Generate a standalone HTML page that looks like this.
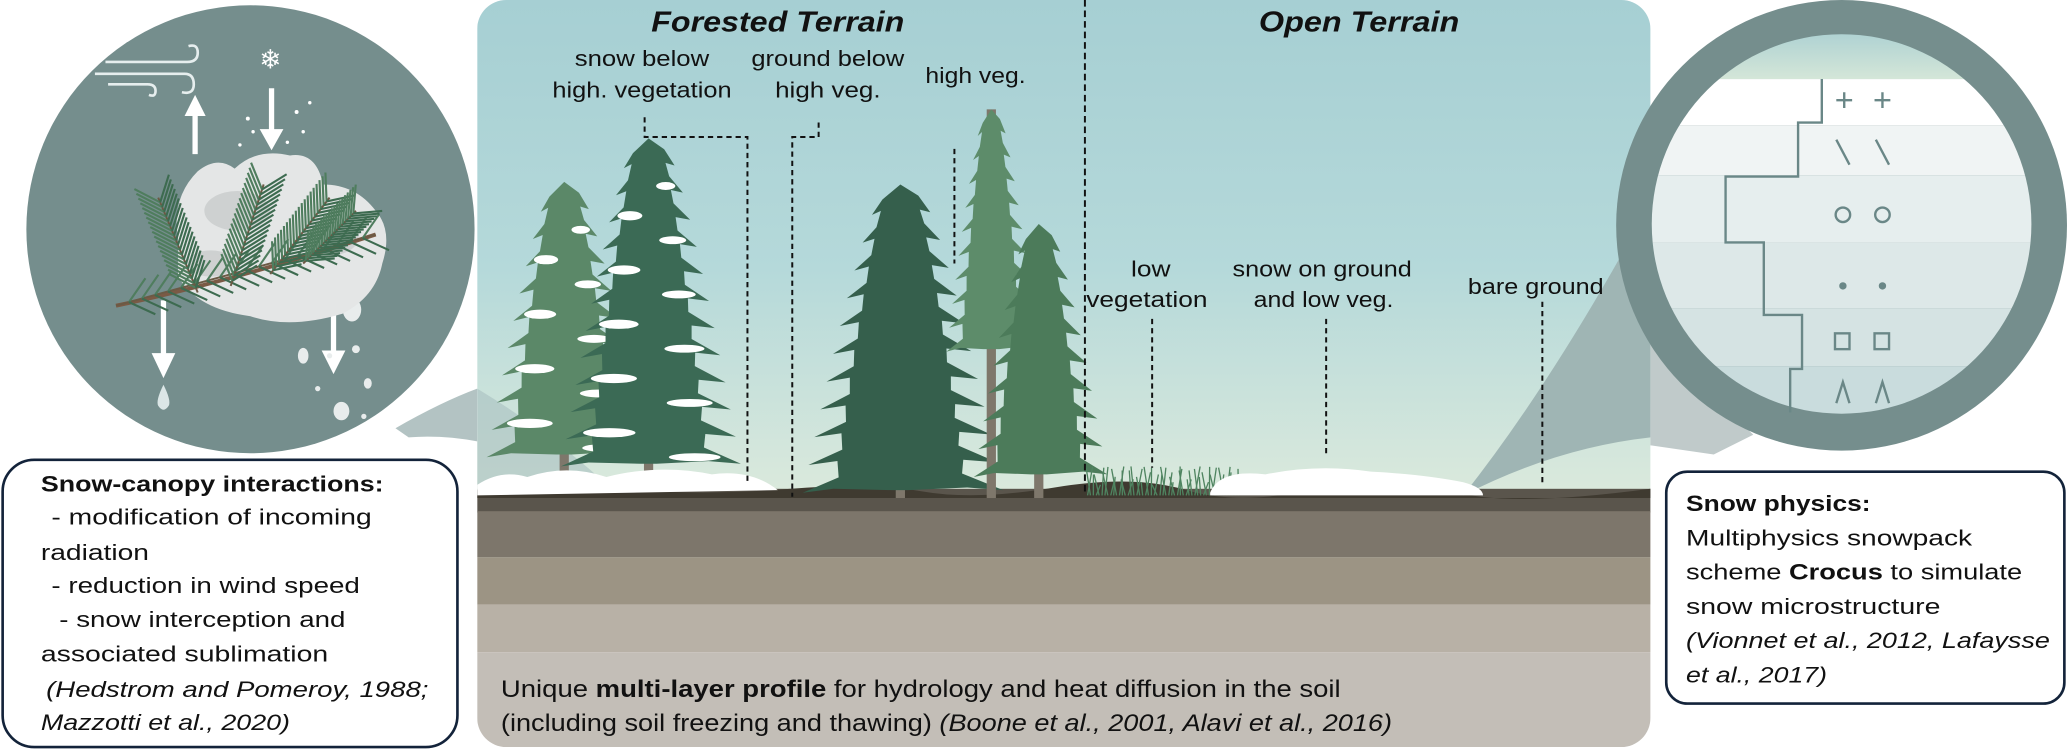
<!DOCTYPE html>
<html><head><meta charset="utf-8"><style>
html,body{margin:0;padding:0;background:#fff;}
svg{display:block;}
text{font-family:"Liberation Sans",sans-serif;}
</style></head><body>
<svg id="s" width="2067" height="751" viewBox="0 0 1568 570" preserveAspectRatio="none" xmlns="http://www.w3.org/2000/svg">
<defs>
<linearGradient id="sky" x1="0" y1="0" x2="0" y2="1">
<stop offset="0" stop-color="#a6cfd3"/><stop offset="0.55" stop-color="#b5d9da"/><stop offset="1" stop-color="#dae9dc"/>
</linearGradient>
<linearGradient id="top" x1="0" y1="0" x2="0" y2="1">
<stop offset="0" stop-color="#a9cfd2"/><stop offset="1" stop-color="#d4e6d8"/>
</linearGradient>
<clipPath id="panel"><rect x="362" y="0" width="890" height="567" rx="22"/></clipPath>
<clipPath id="inner"><circle cx="1397" cy="170" r="144"/></clipPath>
</defs>

<g clip-path="url(#panel)">
<rect x="362" y="0" width="890" height="372" fill="url(#sky)"/>
<rect x="362" y="371" width="890" height="18" fill="#5a554c"/>
<rect x="362" y="388" width="890" height="35" fill="#7d766b"/>
<rect x="362" y="423" width="890" height="36" fill="#9c9484"/>
<rect x="362" y="459" width="890" height="36" fill="#b8b1a6"/>
<rect x="362" y="495" width="890" height="72" fill="#c3beb7"/>
<path d="M362 372 Q420 368 480 372 T600 371 T700 373 T800 370 T900 372 T1000 371 T1100 372 T1252 371 L1252 378 L362 378Z" fill="#3f3a30"/>
<path d="M362 295 Q420 330 465 372 L362 372Z" fill="#a9bfbf" opacity="0.6"/>
<path d="M1110 376 Q1170 300 1232 190 L1252 250 L1252 332 Q1180 340 1110 376Z" fill="#9fb5b4"/>
<g id="trees"></g>
<path d="M362 368 Q380 356 400 362 Q430 352 460 362 Q500 352 540 360 Q570 356 590 372 L362 376Z" fill="#fff"/>
<g id="grass" stroke="#4f8460" stroke-width="1"></g>
<path d="M918 374 Q925 356 960 360 Q1000 352 1040 358 Q1080 360 1110 366 Q1125 370 1125 376 L918 376Z" fill="#fff"/>
</g>
<line x1="823" y1="0" x2="823" y2="375" stroke="#111" stroke-width="1.5" stroke-dasharray="5,3"/>

<g font-size="17" fill="#111" text-anchor="middle">
<text x="590" y="24" font-weight="bold" font-style="italic" font-size="22" textLength="192" lengthAdjust="spacingAndGlyphs">Forested Terrain</text>
<text x="1031" y="24" font-weight="bold" font-style="italic" font-size="22" textLength="152" lengthAdjust="spacingAndGlyphs">Open Terrain</text>
<text x="487" y="50" textLength="102" lengthAdjust="spacingAndGlyphs">snow below</text>
<text x="487" y="74" textLength="136" lengthAdjust="spacingAndGlyphs">high. vegetation</text>
<text x="628" y="50" textLength="116" lengthAdjust="spacingAndGlyphs">ground below</text>
<text x="628" y="74" textLength="80" lengthAdjust="spacingAndGlyphs">high veg.</text>
<text x="740" y="63" textLength="76" lengthAdjust="spacingAndGlyphs">high veg.</text>
<text x="873" y="210" textLength="30" lengthAdjust="spacingAndGlyphs">low</text>
<text x="870" y="233" textLength="92" lengthAdjust="spacingAndGlyphs">vegetation</text>
<text x="1003" y="210" textLength="136" lengthAdjust="spacingAndGlyphs">snow on ground</text>
<text x="1004" y="233" textLength="106" lengthAdjust="spacingAndGlyphs">and low veg.</text>
<text x="1165" y="223" textLength="103" lengthAdjust="spacingAndGlyphs">bare ground</text>
</g>
<g fill="none" stroke="#111" stroke-width="1.5" stroke-dasharray="4,3">
<polyline points="489,89 489,104 567,104 567,365"/>
<polyline points="621,93 621,104 601,104 601,377"/>
<line x1="724" y1="113" x2="724" y2="200"/>
<line x1="874" y1="242" x2="874" y2="355"/>
<line x1="1006" y1="242" x2="1006" y2="345"/>
<line x1="1170" y1="229" x2="1170" y2="368"/>
</g>
<g font-size="18" fill="#111">
<text x="380" y="529" textLength="637" lengthAdjust="spacingAndGlyphs">Unique <tspan font-weight="bold">multi-layer profile</tspan> for hydrology and heat diffusion in the soil</text>
<text x="380" y="555" textLength="676" lengthAdjust="spacingAndGlyphs">(including soil freezing and thawing) <tspan font-style="italic">(Boone et al., 2001, Alavi et al., 2016)</tspan></text>
</g>

<path d="M300 325 Q335 305 362 295 L362 335 Q335 330 310 332Z" fill="#b3c3c3"/>
<circle cx="190" cy="174" r="170" fill="#758e8d"/>
<g fill="none" stroke="#e6eeee" stroke-width="2">
<path d="M80 47 H142 Q150 47 150 40 Q150 33 143 35"/>
<path d="M72 56 H140 Q147 56 147 64 Q147 72 138 70"/>
<path d="M82 64 H112 Q118 64 118 69 Q118 74 113 72"/>
</g>
<text x="205" y="52" text-anchor="middle" font-size="20" fill="#fff">❄</text>
<g fill="#fff">
<path d="M146 117 V88 H140 L148 72 L156 88 H150 V117Z"/>
<path d="M204 67 V98 H197 L206 114 L215 98 H208 V67Z"/>
<path d="M122 228 V268 H115 L124 287 L133 268 H126 V228Z"/>
<path d="M251 232 V266 H244 L253 284 L262 266 H255 V232Z"/>
</g>
<path d="M124 292 Q130 304 128 308 Q124 314 120 308 Q118 304 124 292Z" fill="#dbe6e6"/>
<g fill="#e8ecec"><ellipse cx="267" cy="235" rx="7" ry="9"/><ellipse cx="230" cy="270" rx="4" ry="6"/><ellipse cx="259" cy="312" rx="6" ry="7"/><ellipse cx="279" cy="291" rx="3" ry="4"/><circle cx="241" cy="295" r="2"/><circle cx="250" cy="270" r="2"/><circle cx="276" cy="316" r="2"/><circle cx="270" cy="265" r="3"/></g>
<g fill="#e4e6e6">
<path d="M135 180 Q130 150 150 130 Q165 118 178 128 Q195 112 220 118 Q240 115 245 140 Q270 140 285 160 Q298 175 290 200 Q285 225 260 238 Q220 250 190 240 Q150 235 135 210Z"/>
</g>
<g fill="#c9cccc" opacity="0.8"><ellipse cx="180" cy="160" rx="25" ry="15"/><ellipse cx="250" cy="180" rx="22" ry="14"/><ellipse cx="160" cy="200" rx="18" ry="10"/></g>
<g id="branch"></g>
<g fill="#fff"><circle cx="188" cy="90" r="1.5"/><circle cx="192" cy="100" r="1.3"/><circle cx="225" cy="85" r="1.5"/><circle cx="230" cy="100" r="1.3"/><circle cx="218" cy="108" r="1.3"/><circle cx="182" cy="110" r="1.3"/><circle cx="235" cy="78" r="1.3"/></g>

<rect x="2" y="349" width="345" height="218" rx="24" fill="#fff" stroke="#13233a" stroke-width="2"/>
<g font-size="17" fill="#111">
<text x="31" y="373" font-weight="bold" textLength="260" lengthAdjust="spacingAndGlyphs">Snow-canopy interactions:</text>
<text x="39" y="398" textLength="243" lengthAdjust="spacingAndGlyphs">- modification of incoming</text>
<text x="31" y="425" textLength="82" lengthAdjust="spacingAndGlyphs">radiation</text>
<text x="39" y="450" textLength="234" lengthAdjust="spacingAndGlyphs">- reduction in wind speed</text>
<text x="45" y="476" textLength="217" lengthAdjust="spacingAndGlyphs">- snow interception and</text>
<text x="31" y="502" textLength="218" lengthAdjust="spacingAndGlyphs">associated sublimation</text>
<text x="35" y="529" font-style="italic" textLength="290" lengthAdjust="spacingAndGlyphs">(Hedstrom and Pomeroy, 1988;</text>
<text x="31" y="554" font-style="italic" textLength="189" lengthAdjust="spacingAndGlyphs">Mazzotti et al., 2020)</text>
</g>

<path d="M1252 252 L1330 330 L1300 345 L1252 338Z" fill="#c0caca"/>
<circle cx="1397" cy="171" r="171" fill="#758e8d"/>
<g clip-path="url(#inner)">
<rect x="1250" y="20" width="300" height="40" fill="url(#top)"/>
<rect x="1250" y="60" width="300" height="35" fill="#ffffff"/>
<rect x="1250" y="95" width="300" height="38" fill="#f0f4f4"/>
<rect x="1250" y="133" width="300" height="51" fill="#e6eeee"/>
<rect x="1250" y="184" width="300" height="50" fill="#dde8e8"/>
<rect x="1250" y="234" width="300" height="44" fill="#d5e3e3"/>
<rect x="1250" y="278" width="300" height="40" fill="#c9dcdd"/>
</g>
<g fill="none" stroke="#6a8787" stroke-width="1.8">
<polyline points="1382,60 1382,93 1364,93 1364,134 1309,134 1309,184 1338,184 1338,239 1367,239 1367,280 1358,280 1358,313"/>
<path d="M1393 76 H1405 M1399 70 V82 M1422 76 H1434 M1428 70 V82"/>
<path d="M1393 106 L1403 125 M1423 106 L1433 125"/>
<circle cx="1398" cy="163" r="5.5"/><circle cx="1428" cy="163" r="5.5"/>
<rect x="1392" y="253" width="11" height="12"/><rect x="1422" y="253" width="11" height="12"/>
<path d="M1393 306 L1398 290 L1403 306 M1423 306 L1428 290 L1433 306"/>
</g>
<circle cx="1398" cy="217" r="2.8" fill="#6a8787"/><circle cx="1428" cy="217" r="2.8" fill="#6a8787"/>

<rect x="1264" y="358" width="302" height="176" rx="16" fill="#fff" stroke="#13233a" stroke-width="2"/>
<g font-size="17" fill="#111">
<text x="1279" y="388" font-weight="bold" textLength="140" lengthAdjust="spacingAndGlyphs">Snow physics:</text>
<text x="1279" y="414" textLength="217" lengthAdjust="spacingAndGlyphs">Multiphysics snowpack</text>
<text x="1279" y="440" textLength="255" lengthAdjust="spacingAndGlyphs">scheme <tspan font-weight="bold">Crocus</tspan> to simulate</text>
<text x="1279" y="466" textLength="193" lengthAdjust="spacingAndGlyphs">snow microstructure</text>
<text x="1279" y="492" font-style="italic" textLength="276" lengthAdjust="spacingAndGlyphs">(Vionnet et al., 2012, Lafaysse</text>
<text x="1279" y="518" font-style="italic" textLength="107" lengthAdjust="spacingAndGlyphs">et al., 2017)</text>
</g>
</svg>
<script>
(function(){
var NS="http://www.w3.org/2000/svg";
function el(p,n,a){var e=document.createElementNS(NS,n);for(var k in a)e.setAttribute(k,a[k]);p.appendChild(e);return e;}
var T=document.getElementById('trees');
function tree(cx,top,bot,w,col,trunkTop,gy,snow,layers){
 el(T,'rect',{x:cx-3.5,y:trunkTop,width:7,height:gy-trunkTop,fill:'#7e776b'});
 var R=[],L=[];
 for(var i=1;i<=layers;i++){
  var f=i/layers,y=top+(bot-top)*f,hw=w*(0.15+0.85*Math.pow(f,0.75));
  var yi=y-(bot-top)/layers*0.6;
  R.push([cx+hw*0.6,yi]);R.push([cx+hw,y]);R.push([cx+hw*0.65,y-2]);
  L.push([cx-hw*0.6,yi+3]);L.push([cx-hw*0.95,y+2]);L.push([cx-hw*0.65,y-1]);
 }
 var pts=[[cx,top]].concat(R);
 pts.push([cx+6,bot]);pts.push([cx-6,bot]);
 pts=pts.concat(L.reverse());
 el(T,'polygon',{points:pts.map(function(p){return p.join(',')}).join(' '),fill:col});
 if(snow){for(var i=2;i<=layers;i++){var f=i/layers,y=top+(bot-top)*f,hw=w*(0.15+0.85*Math.pow(f,0.75));
  if(i%2==0)el(T,'ellipse',{cx:cx+hw*0.5,cy:y-5,rx:hw*0.28,ry:3,fill:'#fff'});
  else el(T,'ellipse',{cx:cx-hw*0.45,cy:y-3,rx:hw*0.3,ry:3.5,fill:'#fff'});}}
}
tree(428,138,345,62,'#5b8868',300,372,true,10);
tree(492,105,352,70,'#3b6a55',300,372,true,12);
tree(683,140,372,78,'#355f4c',330,378,false,11);
tree(752,83,265,36,'#5d8c6a',83,378,false,10);
tree(788,170,360,52,'#4c7b5a',320,378,false,9);
var G=document.getElementById('grass');
for(var x=825;x<940;x+=2.2){var h=8+Math.abs(Math.sin(x*1.7))*14;el(G,'line',{x1:x,y1:376,x2:x+Math.sin(x)*4,y2:376-h});}
var B=document.getElementById('branch');
el(B,'path',{d:'M88 232 Q170 215 285 178',stroke:'#7a5a45','stroke-width':3,fill:'none'});
var stems=[[88,232,285,178],[150,222,120,150],[175,217,200,140],[205,208,250,150],[230,200,270,160]];
stems.forEach(function(s){el(B,'path',{d:'M'+s[0]+' '+s[1]+' L'+s[2]+' '+s[3],stroke:'#6b5a45','stroke-width':1.5});
 for(var t=0.05;t<1;t+=0.05){var x=s[0]+(s[2]-s[0])*t,y=s[1]+(s[3]-s[1])*t;
  for(var d=-1;d<=1;d+=2){var a=Math.atan2(s[3]-s[1],s[2]-s[0])+d*0.7;
   el(B,'line',{x1:x,y1:y,x2:x+Math.cos(a)*22,y2:y+Math.sin(a)*22,stroke:(d>0?'#3d6b50':'#4f7d5e'),'stroke-width':1.6});}}});
})();
</script>
</body></html>
